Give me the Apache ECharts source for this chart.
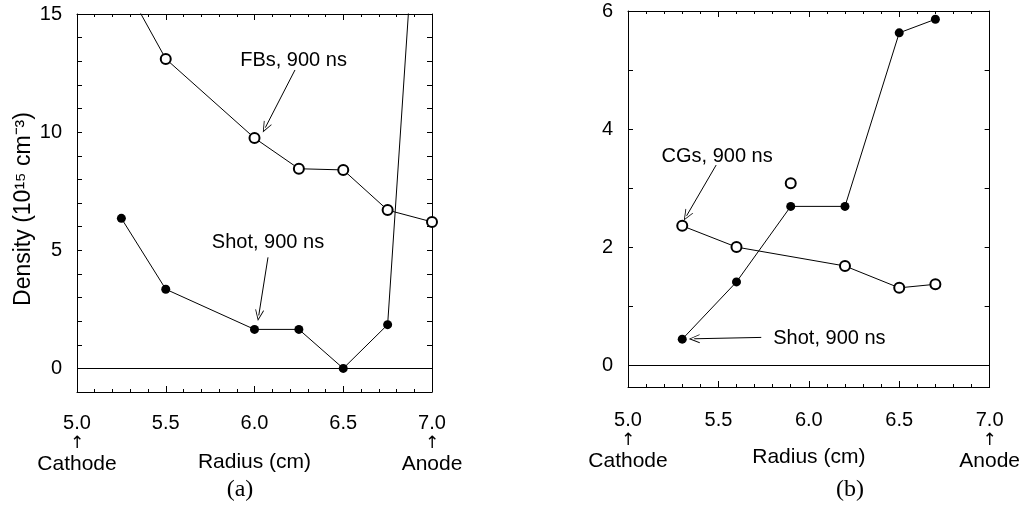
<!DOCTYPE html>
<html>
<head>
<meta charset="utf-8">
<title>Density vs radius</title>
<script src="https://cdn.jsdelivr.net/npm/echarts@6.0.0/dist/echarts.min.js"></script>
<style>
  html, body { margin: 0; padding: 0; background: #fff; }
  #main { width: 1023px; height: 508px; }
</style>
</head>
<body>
<div id="main"></div>
<script>
// ---- panel (a) ----
var radiusA = [5.25, 5.5, 6.0, 6.25, 6.5, 6.75, 7.0];
var fbsA    = [16.5, 13.1, 9.75, 8.45, 8.4, 6.7, 6.2];   // first point runs off the top
var shotA   = [6.35, 3.35, 1.65, 1.65, 0.0, 1.85, 30];  // last point runs off the top

// ---- panel (b) ----
var shotRadiusB = [5.3, 5.6, 5.9, 6.2, 6.5, 6.7];
var shotB       = [0.44, 1.41, 2.69, 2.69, 5.63, 5.86];
var cgRadiusB   = [5.3, 5.6, 6.2, 6.5, 6.7];
var cgB         = [2.36, 2.0, 1.68, 1.31, 1.37];
var cgLoneRadiusB = [5.9];   // CG point not joined to the others
var cgLoneB       = [3.08];

// ---- ticks ----
var xTicks  = [5.0, 5.5, 6.0, 6.5, 7.0];
var yTicksA = [0, 5, 10, 15];
var yStepsA = [0, 1, 2, 3, 4, 5, 6, 7, 8, 9, 10, 11, 12, 13, 14, 15];
var yTicksB = [0, 2, 4, 6];
var yStepsB = [0, 1, 2, 3, 4, 5, 6];

function zip(xs, ys) {
    return xs.map(function (x, i) { return [x, ys[i]]; });
}

var SANS = 'Liberation Sans';
var ARROW = 'path://M5,0 L10,10 L9,10 L5,2 L1,10 L0,10 Z';

function bottomAxis(grid, gap) {
    return {
        type: 'value', gridIndex: grid, position: 'bottom',
        min: 5, max: 7, interval: 0.5,
        axisLine: { onZero: false, lineStyle: { color: '#000', width: 1 } },
        axisTick: { inside: true, length: 6, lineStyle: { color: '#000' } },
        minorTick: { show: true, splitNumber: 5, length: 3, lineStyle: { color: '#000' } },
        splitLine: { show: false },
        axisLabel: {
            customValues: xTicks,
            margin: gap,
            formatter: function (v) {
                var s = '{n|' + v.toFixed(1) + '}';
                if (v === 5) s += '\n{ar|↑}\n{t|Cathode}';
                if (v === 7) s += '\n{ar|↑}\n{t|Anode}';
                return s;
            },
            rich: {
                n: { fontFamily: SANS, fontSize: 20, color: '#000', lineHeight: 22 },
                ar: { fontFamily: 'DejaVu Sans', fontSize: 17, color: '#000', lineHeight: 19 },
                t: { fontFamily: SANS, fontSize: 21, color: '#000', lineHeight: 22 }
            }
        },
        name: 'Radius (cm)', nameLocation: 'middle', nameGap: 60, nameMoveOverlap: false,
        nameTextStyle: { fontFamily: SANS, fontSize: 21, color: '#000' }
    };
}

function topAxis(grid) {
    return {
        type: 'value', gridIndex: grid, position: 'top',
        min: 5, max: 7, interval: 0.5,
        axisLine: { onZero: false, lineStyle: { color: '#000', width: 1 } },
        axisTick: { inside: true, length: 6, lineStyle: { color: '#000' } },
        minorTick: { show: true, splitNumber: 5, length: 3, lineStyle: { color: '#000' } },
        splitLine: { show: false },
        axisLabel: { show: false }
    };
}

function sideAxis(grid, pos, min, max, labels, steps, showLabels) {
    return {
        type: 'value', gridIndex: grid, position: pos,
        min: min, max: max,
        axisLine: { onZero: false, lineStyle: { color: '#000', width: 1 } },
        axisTick: { inside: true, length: 5, customValues: steps, lineStyle: { color: '#000' } },
        splitLine: { show: false },
        axisLabel: {
            show: showLabels, customValues: labels, margin: 15,
            fontFamily: SANS, fontSize: 20, color: '#000'
        }
    };
}

function arrowLine(from, to) {
    return [{ coord: from }, { coord: to }];
}

function note(text, at) {
    return { name: text, coord: at };
}

var zeroLine = {
    silent: true,
    symbol: 'none',
    lineStyle: { color: '#000', width: 1, type: 'solid' },
    label: { show: false },
    emphasis: { disabled: true },
    data: [{ yAxis: 0 }]
};

var arrowBase = {
    silent: true,
    symbol: ['none', ARROW],
    symbolSize: [9, 11],
    lineStyle: { color: '#000', width: 1, type: 'solid' },
    label: { show: false },
    emphasis: { disabled: true }
};

var noteBase = {
    silent: true,
    symbol: 'rect',
    symbolSize: 1,
    itemStyle: { color: 'rgba(0,0,0,0)' },
    label: {
        show: true, position: 'inside', formatter: '{b}',
        fontFamily: SANS, fontSize: 20, color: '#000'
    }
};

function withData(base, data) {
    return Object.assign({}, base, { data: data });
}

var yLeftA = sideAxis(0, 'left', -1, 15, yTicksA, yStepsA, true);
yLeftA.name = 'Density (10¹⁵ cm⁻³)';
yLeftA.nameLocation = 'middle';
yLeftA.nameRotate = 90;
yLeftA.nameGap = 42;
yLeftA.nameMoveOverlap = false;
yLeftA.nameTextStyle = { fontFamily: SANS, fontSize: 23, color: '#000', padding: [0, 12, 0, 0] };

option = {
    animation: false,
    backgroundColor: '#fff',
    grid: [
        { left: 77, top: 14, width: 355, height: 378 },
        { left: 628, top: 11, width: 362, height: 376 }
    ],
    xAxis: [bottomAxis(0, 20), topAxis(0), bottomAxis(1, 22), topAxis(1)],
    yAxis: [
        yLeftA,
        sideAxis(0, 'right', -1, 15, yTicksA, yStepsA, false),
        sideAxis(1, 'left', -0.37, 6, yTicksB, yStepsB, true),
        sideAxis(1, 'right', -0.37, 6, yTicksB, yStepsB, false)
    ],
    graphic: [
        { type: 'text', x: 240, y: 490, style: { text: '(a)', font: '24px "Liberation Serif"', fill: '#000', align: 'center', verticalAlign: 'middle' } },
        { type: 'text', x: 850, y: 490, style: { text: '(b)', font: '24px "Liberation Serif"', fill: '#000', align: 'center', verticalAlign: 'middle' } }
    ],
    series: [
        {
            name: 'FBs, 900 ns', type: 'line', xAxisIndex: 0, yAxisIndex: 0,
            data: zip(radiusA, fbsA),
            symbol: 'emptyCircle', symbolSize: 10,
            itemStyle: { color: '#000', borderWidth: 1 },
            lineStyle: { color: '#000', width: 1 },
            markLine: zeroLine
        },
        {
            name: 'Shot, 900 ns', type: 'line', xAxisIndex: 0, yAxisIndex: 0,
            data: zip(radiusA, shotA),
            symbol: 'circle', symbolSize: 9,
            itemStyle: { color: '#000' },
            lineStyle: { color: '#000', width: 1 },
            markLine: withData(arrowBase, [
                arrowLine([6.228, 12.63], [6.061, 10.19]),
                arrowLine([6.076, 4.70], [6.024, 2.24])
            ]),
            markPoint: withData(noteBase, [
                note('FBs, 900 ns', [6.22, 13.05]),
                note('Shot, 900 ns', [6.076, 5.34])
            ])
        },
        {
            name: 'CGs, 900 ns', type: 'line', xAxisIndex: 2, yAxisIndex: 2,
            data: zip(cgRadiusB, cgB),
            symbol: 'emptyCircle', symbolSize: 10,
            itemStyle: { color: '#000', borderWidth: 1 },
            lineStyle: { color: '#000', width: 1 },
            markLine: zeroLine
        },
        {
            name: 'CGs extra', type: 'scatter', xAxisIndex: 2, yAxisIndex: 2,
            data: zip(cgLoneRadiusB, cgLoneB),
            symbol: 'emptyCircle', symbolSize: 10,
            itemStyle: { color: '#000', borderWidth: 1, opacity: 1 }
        },
        {
            name: 'Shot b', type: 'line', xAxisIndex: 2, yAxisIndex: 2,
            data: zip(shotRadiusB, shotB),
            symbol: 'circle', symbolSize: 9,
            itemStyle: { color: '#000' },
            lineStyle: { color: '#000', width: 1 },
            markLine: withData(arrowBase, [
                arrowLine([5.4875, 3.39], [5.324, 2.53]),
                arrowLine([5.737, 0.47], [5.366, 0.447])
            ]),
            markPoint: withData(noteBase, [
                note('CGs, 900 ns', [5.493, 3.53]),
                note('Shot, 900 ns', [6.114, 0.446])
            ])
        }
    ]
};

var myChart = echarts.init(document.getElementById('main'));
myChart.setOption(option);
</script>
</body>
</html>
